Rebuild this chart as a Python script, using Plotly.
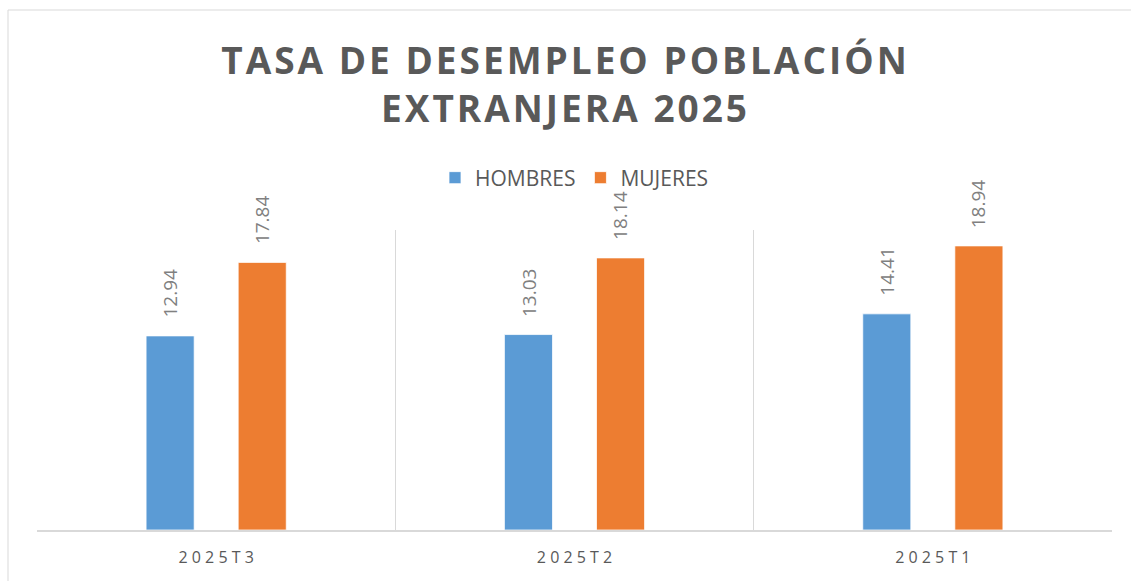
import plotly.graph_objects as go

categories = ["2025T3", "2025T2", "2025T1"]
hombres = [12.94, 13.03, 14.41]
mujeres = [17.84, 18.14, 18.94]
series_names = ["HOMBRES", "MUJERES"]
title_lines = ["TASA DE DESEMPLEO POBLACIÓN", "EXTRANJERA 2025"]

colors = ["#5B9BD5", "#ED7D31"]
gray_dark = "#595959"
gray_label = "#808080"

W, H = 1131, 581
ml, mr, mt, mb = 37, 19, 230, 51
plot_w = W - ml - mr
plot_h = H - mt - mb
bargap = 0.486
bargroupgap = 0.478
cat_px = plot_w / len(categories)
slot_px = (1 - bargap) * cat_px / 2

fig = go.Figure()
for name, vals, col in zip(series_names, [hombres, mujeres], colors):
    fig.add_trace(go.Bar(
        x=categories, y=vals, name=name,
        marker=dict(color=col, line=dict(color="white", width=0.75)),
        hoverinfo="x+y",
    ))

annotations = []
for i, vals in enumerate([hombres, mujeres]):
    shift = (i - 0.5) * slot_px
    for c, v in zip(categories, vals):
        annotations.append(dict(
            x=c, y=v, xref="x", yref="y", text=f"{v:.2f}", showarrow=False,
            textangle=-90, xanchor="center", yanchor="bottom",
            xshift=shift, yshift=16,
            font=dict(family="Open Sans", size=19, color=gray_label),
        ))

fig.update_layout(
    width=W, height=H,
    margin=dict(l=ml, r=mr, t=mt, b=mb, pad=0),
    paper_bgcolor="white", plot_bgcolor="white",
    barmode="group", bargap=bargap, bargroupgap=bargroupgap,
    title=dict(
        text="<br>".join(title_lines),
        x=0.5, xanchor="center", xref="container",
        y=0.873, yanchor="top", yref="container",
        font=dict(family="Open Sans", size=37, color=gray_dark, weight="bold"),
    ),
    legend=dict(
        orientation="h", x=0.5, xanchor="center", y=(mt + plot_h - 178) / plot_h,
        yanchor="middle", font=dict(family="Open Sans", size=21, color=gray_dark),
        itemwidth=30, traceorder="normal",
    ),
    xaxis=dict(
        tickmode="array", tickvals=categories,
        ticktext=[" ".join(list(c)) for c in categories],
        tickson="boundaries", showgrid=True, gridcolor="#d9d9d9", gridwidth=1,
        showline=True, linecolor="#d9d9d9", linewidth=1.5, ticks="",
        tickfont=dict(family="Open Sans", size=16, color=gray_dark),
        ticklabelstandoff=12, zeroline=False,
    ),
    yaxis=dict(range=[0, 20], visible=False, showgrid=False, zeroline=False),
    annotations=annotations,
    shapes=[dict(
        type="rect", xref="paper", yref="paper",
        x0=(8 - ml) / plot_w, x1=(W + 5 - ml) / plot_w,
        y0=(mt + plot_h - (H + 5)) / plot_h, y1=(mt + plot_h - 10) / plot_h,
        line=dict(color="#d9d9d9", width=1), fillcolor="rgba(0,0,0,0)", layer="below",
    )],
)

post = (
    "document.body.style.margin='0';"
    "document.body.style.overflow='hidden';"
    "document.querySelectorAll('.gtitle').forEach(function(t){t.style.letterSpacing='3px';});"
)
fig.write_html("out.html", config={"displayModeBar": False}, post_script=post)
